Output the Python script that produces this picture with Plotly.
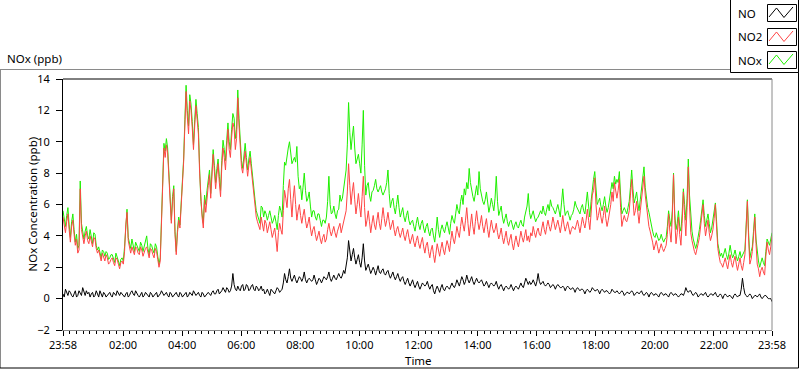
import plotly.graph_objects as go
import pandas as pd

# ---------------- data ----------------
# main samples every 5 minutes, plus one in-between sample ("_mid") for each gap
START = "2013-06-10 23:58"
END = "2013-06-11 23:58"

no2 = [
    5.2, 4.2, 5.4, 3.6, 5.0, 3.4, 2.9, 7.0, 3.8, 4.0,
    3.7, 4.0, 3.3, 3.8, 2.9, 2.6, 2.9, 2.4, 2.6, 2.3,
    2.6, 2.1, 2.5, 1.9, 2.4, 3.0, 5.5, 3.2, 3.3, 2.8,
    3.2, 2.8, 3.1, 3.0, 3.3, 2.6, 3.1, 2.6, 3.0, 2.0,
    5.2, 9.6, 9.8, 7.5, 4.8, 7.0, 2.8, 5.0, 5.9, 8.7,
    13.2, 10.5, 12.0, 9.5, 12.3, 10.5, 6.0, 4.5, 5.5, 7.2,
    6.4, 9.2, 7.0, 8.6, 6.5, 9.6, 8.2, 10.8, 9.0, 11.2,
    9.5, 12.8, 9.3, 8.0, 9.4, 7.8, 9.0, 7.4, 6.0, 4.9,
    4.4, 4.6, 5.0, 4.2, 4.9, 3.9, 4.5, 3.0, 4.8, 4.1,
    6.9, 5.8, 7.6, 5.2, 7.2, 5.0, 6.0, 4.8, 5.7, 4.5,
    5.2, 4.0, 4.6, 3.7, 4.3, 3.5, 4.1, 3.8, 4.8, 4.0,
    4.6, 3.9, 4.5, 4.2, 5.0, 5.6, 8.6, 6.0, 7.4, 5.4,
    6.7, 5.2, 7.8, 4.6, 5.6, 4.2, 5.3, 4.4, 5.5, 4.4,
    5.8, 4.6, 5.5, 4.4, 5.0, 4.0, 4.6, 3.9, 4.5, 3.7,
    4.4, 3.5, 4.1, 3.3, 4.0, 3.2, 3.9, 2.9, 3.6, 2.6,
    3.4, 2.3, 3.5, 2.7, 3.6, 2.8, 3.7, 3.0, 4.3, 3.5,
    4.6, 3.9, 5.2, 4.3, 5.8, 4.0, 5.4, 4.1, 5.6, 4.4,
    5.3, 4.2, 5.1, 3.9, 5.0, 4.2, 4.8, 3.8, 4.5, 3.5,
    4.3, 3.4, 4.1, 3.1, 4.0, 3.3, 4.3, 3.6, 4.4, 4.0,
    4.2, 4.6, 3.9, 4.5, 4.0, 4.9, 4.1, 5.0, 4.3, 5.2,
    4.4, 5.0, 4.2, 5.3, 4.3, 4.9, 4.1, 4.6, 4.4, 5.0,
    4.2, 5.2, 4.5, 5.7, 4.4, 6.6, 7.7, 5.0, 5.8, 4.8,
    5.9, 4.6, 5.4, 6.8, 7.4, 6.4, 7.6, 4.6, 5.3, 4.9,
    5.6, 7.6, 5.3, 6.2, 4.8, 6.4, 7.8, 5.8, 4.6, 4.0,
    3.1, 3.7, 2.9, 3.5, 3.0, 3.4, 5.4, 3.6, 7.9, 3.5,
    5.2, 3.4, 6.8, 4.0, 8.4, 4.2, 3.2, 2.8, 3.5, 4.6,
    6.0, 4.0, 5.0, 3.7, 4.4, 6.0, 3.2, 2.3, 2.0, 2.6,
    1.9, 2.8, 2.0, 2.7, 1.8, 2.6, 1.8, 2.8, 6.2, 2.2,
    3.0, 5.2, 2.2, 1.4, 2.0, 1.5, 3.6, 2.8, 4.0,
]
no2_mid = [
    4.5, 4.9, 4.4, 4.6, 4.1, 3.8, 3.1, 4.4, 3.5, 4.3,
    3.5, 3.6, 3.9, 3.2, 3.1, 2.4, 2.7, 2.8, 2.2, 2.5,
    2.3, 2.6, 2.2, 2.3, 2.2, 4.7, 3.7, 2.9, 3.1, 3.3,
    2.9, 3.3, 2.7, 3.2, 2.9, 3.2, 2.8, 3.2, 2.5, 2.4,
    8.0, 9.0, 9.3, 5.6, 6.2, 4.1, 4.2, 4.5, 7.6, 11.0,
    11.6, 12.6, 10.9, 11.0, 11.4, 8.0, 5.2, 6.3, 6.6, 7.9,
    7.8, 8.1, 7.9, 7.4, 8.4, 9.0, 9.6, 9.5, 10.3, 10.9,
    10.2, 11.0, 8.4, 8.9, 8.6, 8.5, 8.2, 6.6, 5.2, 4.7,
    5.2, 4.3, 4.8, 4.5, 4.4, 4.2, 3.8, 4.2, 4.4, 5.6,
    6.4, 7.0, 6.3, 6.4, 6.0, 5.6, 5.3, 5.3, 5.0, 4.8,
    4.5, 4.4, 4.1, 4.0, 3.8, 3.9, 3.6, 4.4, 4.3, 4.3,
    4.2, 4.3, 4.8, 4.6, 5.3, 6.8, 7.2, 6.8, 6.3, 6.0,
    5.9, 6.5, 5.8, 5.0, 4.9, 4.8, 4.7, 5.0, 4.8, 5.1,
    5.1, 5.0, 4.9, 4.7, 4.4, 4.4, 4.2, 4.2, 4.0, 4.1,
    3.9, 3.8, 3.6, 3.7, 3.5, 3.6, 3.3, 3.4, 3.0, 3.1,
    2.8, 2.9, 3.1, 3.2, 3.1, 3.3, 3.4, 3.7, 3.8, 4.0,
    4.2, 4.6, 4.7, 5.0, 4.8, 4.7, 4.6, 4.9, 4.9, 4.8,
    4.6, 4.7, 4.4, 4.5, 4.5, 4.4, 4.2, 4.1, 3.9, 3.9,
    3.7, 3.8, 3.5, 3.6, 3.6, 3.8, 3.9, 4.0, 3.7, 3.6,
    4.0, 4.2, 4.3, 4.1, 4.5, 4.4, 4.6, 4.6, 4.7, 4.8,
    4.7, 4.6, 4.7, 4.7, 4.6, 4.5, 4.4, 4.5, 4.7, 4.6,
    4.7, 4.8, 5.0, 5.0, 5.4, 6.9, 6.0, 5.3, 5.2, 5.3,
    5.1, 5.0, 6.0, 6.2, 6.7, 6.9, 5.8, 5.0, 5.0, 5.2,
    6.6, 6.4, 5.6, 5.5, 5.6, 7.0, 6.6, 5.0, 4.3, 3.6,
    3.4, 3.3, 3.2, 3.2, 3.2, 4.1, 4.3, 5.2, 5.0, 4.2,
    4.1, 4.8, 5.3, 5.8, 5.9, 3.7, 3.0, 3.1, 3.9, 5.4,
    4.8, 4.5, 4.2, 4.0, 5.1, 4.5, 2.7, 2.2, 2.3, 2.2,
    2.4, 2.3, 2.4, 2.2, 2.2, 2.1, 2.3, 4.5, 3.8, 2.5,
    4.0, 3.5, 1.9, 1.8, 1.7, 2.7, 3.1, 3.3,
]

nox = [
    5.6, 4.6, 5.8, 3.9, 5.4, 3.6, 3.2, 7.5, 4.1, 4.3,
    4.0, 4.4, 3.5, 4.1, 3.1, 2.8, 3.1, 2.7, 2.9, 2.6,
    2.8, 2.3, 2.7, 2.1, 2.6, 3.3, 5.7, 3.4, 3.8, 3.0,
    3.4, 3.0, 3.4, 3.3, 4.0, 2.8, 3.4, 2.9, 3.3, 2.2,
    5.4, 9.9, 10.2, 7.7, 5.0, 7.2, 3.0, 5.2, 6.0, 8.9,
    13.6, 11.0, 12.4, 9.8, 12.7, 10.9, 6.2, 4.8, 6.0, 7.5,
    6.7, 9.5, 7.4, 8.9, 6.9, 10.1, 8.8, 11.2, 9.5, 11.8,
    10.2, 13.3, 9.8, 8.3, 9.9, 8.2, 9.4, 7.7, 6.3, 5.3,
    4.8, 5.8, 5.6, 5.0, 5.6, 4.8, 5.3, 4.4, 5.9, 5.2,
    8.7, 9.2, 10.0, 8.6, 9.0, 9.7, 7.0, 6.3, 8.0, 6.2,
    6.8, 5.2, 5.6, 5.0, 5.4, 4.6, 5.0, 5.2, 7.8, 5.4,
    5.9, 5.1, 5.7, 6.2, 7.0, 8.2, 12.5, 9.5, 11.0, 8.6,
    9.2, 8.0, 12.0, 6.6, 7.4, 6.2, 6.9, 7.6, 6.8, 7.2,
    6.6, 7.0, 8.2, 5.8, 6.4, 5.4, 6.6, 5.2, 5.8, 4.9,
    5.6, 4.7, 5.0, 4.3, 5.2, 4.4, 5.0, 4.2, 4.8, 4.0,
    4.5, 3.6, 5.2, 3.9, 4.7, 4.2, 4.9, 4.1, 5.3, 4.8,
    6.0, 5.4, 6.6, 7.0, 7.4, 8.3, 6.8, 6.2, 7.2, 8.1,
    6.5, 6.0, 6.8, 5.5, 6.4, 5.6, 7.8, 5.3, 5.9, 4.8,
    5.4, 4.6, 5.0, 4.4, 4.9, 4.5, 5.0, 4.6, 5.6, 6.7,
    5.1, 5.6, 4.9, 5.2, 5.6, 5.9, 5.3, 6.0, 6.3, 5.8,
    5.4, 6.0, 5.2, 7.0, 5.3, 5.6, 5.0, 5.4, 6.2, 5.7,
    5.4, 6.0, 5.4, 6.8, 5.2, 7.2, 8.1, 6.0, 6.4, 5.6,
    6.5, 5.5, 6.3, 7.4, 7.8, 7.6, 8.1, 5.4, 5.8, 5.4,
    6.2, 8.2, 6.1, 6.8, 5.6, 7.1, 8.4, 6.3, 5.5, 4.6,
    4.0, 4.2, 3.7, 4.1, 3.6, 3.9, 5.6, 4.6, 8.0, 4.4,
    5.6, 4.3, 7.0, 5.0, 8.9, 5.2, 3.8, 3.2, 3.9, 5.0,
    6.3, 4.6, 5.4, 4.2, 5.0, 6.1, 3.5, 2.7, 2.6, 3.2,
    2.5, 3.4, 2.6, 3.1, 2.4, 3.0, 2.8, 3.1, 6.3, 2.6,
    3.3, 5.4, 2.8, 2.0, 2.6, 2.1, 3.8, 3.4, 4.2,
]
nox_mid = [
    4.9, 5.3, 4.7, 4.9, 4.4, 4.1, 3.4, 4.8, 3.8, 4.6,
    3.8, 3.9, 4.2, 3.4, 3.3, 2.6, 3.0, 3.0, 2.5, 2.8,
    2.5, 2.9, 2.4, 2.5, 2.4, 5.0, 3.9, 3.2, 3.4, 3.6,
    3.1, 3.6, 3.0, 3.6, 3.2, 3.5, 3.1, 3.5, 2.7, 2.6,
    8.3, 9.4, 9.6, 5.8, 6.5, 4.3, 4.4, 4.7, 7.8, 11.4,
    12.0, 13.0, 11.3, 11.4, 11.8, 8.3, 5.4, 6.6, 6.9, 8.2,
    8.1, 8.5, 8.3, 7.8, 8.8, 9.5, 10.1, 10.0, 10.8, 11.5,
    10.8, 11.5, 8.8, 9.3, 9.0, 8.9, 8.6, 6.9, 5.6, 5.1,
    5.9, 5.2, 5.4, 5.3, 5.2, 5.0, 4.9, 5.3, 5.6, 7.2,
    8.5, 9.6, 9.0, 8.8, 8.7, 7.8, 7.2, 7.1, 6.9, 6.4,
    5.9, 5.6, 5.2, 5.4, 5.0, 5.0, 4.8, 6.2, 6.0, 5.5,
    5.4, 5.6, 6.6, 6.4, 7.9, 9.8, 10.6, 10.3, 9.6, 8.9,
    8.6, 9.8, 8.5, 7.2, 6.6, 6.8, 7.2, 7.0, 7.0, 6.8,
    6.8, 7.4, 6.7, 6.2, 5.8, 6.0, 5.8, 5.5, 5.2, 5.3,
    5.0, 4.9, 4.6, 4.8, 4.7, 4.8, 4.5, 4.6, 4.3, 4.4,
    4.0, 4.3, 4.4, 4.4, 4.4, 4.6, 4.5, 4.8, 5.0, 5.4,
    5.6, 6.2, 6.0, 6.6, 7.0, 7.4, 6.5, 6.8, 6.6, 7.0,
    6.2, 6.3, 6.0, 5.9, 6.0, 6.4, 6.2, 5.6, 5.2, 5.1,
    4.9, 4.9, 4.7, 4.7, 4.6, 4.8, 4.7, 5.2, 5.9, 5.5,
    5.3, 5.2, 5.1, 5.4, 5.4, 5.5, 5.7, 5.6, 5.9, 5.6,
    5.7, 5.6, 6.1, 6.0, 5.5, 5.3, 5.3, 5.7, 5.9, 5.5,
    5.8, 5.6, 6.1, 5.9, 6.2, 7.6, 6.8, 6.2, 5.9, 6.0,
    5.9, 5.8, 6.8, 7.0, 7.3, 7.4, 6.6, 5.6, 5.6, 5.8,
    7.1, 7.0, 6.4, 6.1, 6.3, 7.6, 7.1, 5.8, 5.0, 4.3,
    3.9, 3.9, 3.8, 3.8, 3.8, 4.6, 5.0, 5.6, 5.4, 4.8,
    4.6, 5.4, 6.0, 6.4, 6.6, 4.3, 3.5, 3.5, 4.4, 5.8,
    5.3, 5.0, 4.8, 4.5, 5.6, 4.9, 3.1, 2.9, 2.9, 2.8,
    2.9, 2.9, 2.8, 2.7, 2.7, 2.6, 2.9, 4.7, 4.2, 3.0,
    4.3, 3.8, 2.4, 2.4, 2.3, 3.0, 3.6, 3.8,
]

no = [
    0.3, 0.6, 0.2, 0.4, 0.1, 0.5, 0.2, 0.3, 0.7, 0.2,
    0.3, 0.1, 0.4, 0.2, 0.3, 0.5, 0.1, 0.3, 0.2, 0.4,
    0.1, 0.3, 0.5, 0.2, 0.3, 0.1, 0.4, 0.2, 0.5, 0.2,
    0.3, 0.1, 0.4, 0.2, 0.3, 0.1, 0.3, 0.2, 0.4, 0.2,
    0.5, 0.2, 0.4, 0.1, 0.3, 0.2, 0.4, 0.1, 0.3, 0.2,
    0.4, 0.2, 0.3, 0.5, 0.2, 0.4, 0.1, 0.3, 0.2, 0.4,
    0.2, 0.5, 0.3, 0.6, 0.4, 0.7, 0.4, 0.6, 0.5, 1.6,
    0.6, 0.8, 0.5, 0.9, 0.6, 0.8, 0.6, 0.9, 0.5, 0.7,
    0.6, 0.5, 0.3, 0.6, 0.2, 0.5, 0.3, 0.7, 0.4, 0.6,
    1.6, 1.0, 1.9, 1.1, 1.5, 1.0, 1.4, 1.1, 1.7, 1.0,
    1.3, 1.1, 1.5, 0.9, 1.3, 1.0, 1.4, 1.2, 1.7, 1.1,
    1.5, 1.2, 1.6, 1.3, 1.8, 2.0, 3.7, 2.4, 3.2, 2.2,
    2.8, 2.0, 3.5, 1.8, 2.2, 1.6, 2.0, 1.5, 2.1, 1.6,
    1.9, 1.5, 1.8, 1.3, 1.7, 1.2, 1.6, 1.1, 1.4, 0.9,
    1.3, 0.8, 1.2, 0.7, 1.1, 0.6, 1.0, 0.8, 1.1, 0.6,
    0.9, 0.3, 0.8, 0.4, 0.9, 0.5, 0.8, 0.6, 1.0, 0.7,
    1.2, 0.8, 1.4, 0.9, 1.5, 1.0, 1.4, 0.9, 1.3, 1.0,
    1.2, 0.8, 1.1, 0.7, 1.0, 0.8, 1.1, 0.6, 0.9, 0.5,
    0.8, 0.6, 0.9, 0.5, 0.8, 0.6, 1.0, 0.7, 1.3, 0.9,
    0.9, 1.2, 0.8, 1.6, 0.9, 1.1, 0.8, 1.0, 0.7, 0.9,
    0.6, 0.9, 0.7, 0.8, 0.5, 0.8, 0.6, 0.7, 0.4, 0.7,
    0.5, 0.6, 0.3, 0.6, 0.4, 0.7, 0.5, 0.6, 0.3, 0.6,
    0.4, 0.5, 0.3, 0.6, 0.4, 0.5, 0.3, 0.5, 0.2, 0.4,
    0.3, 0.5, 0.2, 0.4, 0.3, 0.5, 0.2, 0.4, 0.1, 0.4,
    0.2, 0.3, 0.1, 0.4, 0.2, 0.3, 0.1, 0.4, 0.2, 0.3,
    0.1, 0.3, 0.2, 0.7, 0.4, 0.5, 0.2, 0.4, 0.1, 0.3,
    0.2, 0.4, 0.1, 0.3, 0.2, 0.4, 0.1, 0.3, 0.0, 0.3,
    0.1, 0.2, 0.0, 0.3, 0.1, 0.2, 1.3, 0.3, 0.1, 0.3,
    0.0, 0.2, 0.1, 0.3, 0.0, 0.2, 0.1, 0.0, -0.2,
]
no_mid = [
    0.1, 0.4, 0.5, 0.2, 0.3, 0.1, 0.5, 0.2, 0.4, 0.5,
    0.4, 0.3, 0.1, 0.5, 0.1, 0.3, 0.4, 0.1, 0.3, 0.2,
    0.4, 0.2, 0.3, 0.4, 0.2, 0.3, 0.1, 0.4, 0.3, 0.5,
    0.2, 0.3, 0.1, 0.4, 0.2, 0.4, 0.1, 0.3, 0.1, 0.3,
    0.3, 0.3, 0.2, 0.4, 0.1, 0.3, 0.2, 0.4, 0.1, 0.3,
    0.1, 0.4, 0.2, 0.3, 0.3, 0.2, 0.4, 0.1, 0.3, 0.3,
    0.4, 0.3, 0.5, 0.3, 0.5, 0.5, 0.7, 0.4, 0.8, 0.9,
    0.5, 0.6, 0.8, 0.5, 0.9, 0.5, 0.8, 0.6, 0.8, 0.5,
    0.8, 0.6, 0.4, 0.4, 0.6, 0.4, 0.5, 0.6, 0.5, 1.0,
    1.2, 1.4, 1.3, 1.3, 1.2, 1.2, 1.3, 1.3, 1.2, 1.2,
    1.2, 1.2, 1.2, 1.1, 1.2, 1.2, 1.3, 1.4, 1.3, 1.3,
    1.3, 1.4, 1.4, 1.5, 1.6, 2.6, 2.9, 2.8, 2.6, 2.5,
    2.3, 2.6, 2.4, 2.0, 1.9, 1.8, 1.8, 1.8, 1.7, 1.8,
    1.6, 1.7, 1.5, 1.5, 1.4, 1.4, 1.3, 1.3, 1.1, 1.1,
    1.0, 1.0, 0.9, 0.9, 0.8, 0.8, 0.9, 0.9, 0.8, 0.8,
    0.5, 0.6, 0.6, 0.7, 0.6, 0.7, 0.7, 0.8, 0.8, 0.9,
    1.0, 1.1, 1.2, 1.1, 1.2, 1.2, 1.1, 1.1, 1.1, 1.1,
    1.0, 0.9, 0.9, 0.9, 0.9, 0.9, 0.8, 0.8, 0.7, 0.7,
    0.7, 0.7, 0.7, 0.7, 0.7, 0.8, 0.8, 1.0, 1.1, 1.1,
    1.0, 1.0, 1.1, 1.1, 1.0, 0.9, 0.9, 0.9, 0.8, 0.8,
    0.8, 0.8, 0.7, 0.7, 0.7, 0.7, 0.6, 0.6, 0.6, 0.6,
    0.6, 0.5, 0.5, 0.5, 0.5, 0.6, 0.5, 0.5, 0.5, 0.5,
    0.5, 0.4, 0.4, 0.5, 0.4, 0.4, 0.4, 0.4, 0.3, 0.4,
    0.4, 0.4, 0.3, 0.4, 0.4, 0.3, 0.3, 0.3, 0.3, 0.3,
    0.3, 0.2, 0.3, 0.3, 0.3, 0.2, 0.3, 0.3, 0.3, 0.2,
    0.2, 0.3, 0.4, 0.5, 0.5, 0.3, 0.3, 0.3, 0.2, 0.3,
    0.3, 0.2, 0.2, 0.3, 0.3, 0.2, 0.2, 0.2, 0.2, 0.2,
    0.2, 0.1, 0.2, 0.2, 0.2, 0.6, 0.7, 0.2, 0.2, 0.2,
    0.1, 0.2, 0.2, 0.1, 0.1, 0.2, 0.0, 0.0,
]

series_names = ["NO", "NO2", "NOx"]
series_colors = {"NO": "#000000", "NO2": "#ff4545", "NOx": "#1ef000"}

major_tick_times = [START] + ["2013-06-11 %02d:00" % h for h in range(2, 24, 2)] + [END]
major_tick_text = ["23:58"] + ["%02d:00" % h for h in range(2, 24, 2)] + ["23:58"]


def interleave(main, mid):
    assert len(mid) == len(main) - 1, (len(main), len(mid))
    out = []
    for a, b in zip(main[:-1], mid):
        out += [a, b]
    out.append(main[-1])
    return out


series = {
    "NOx": interleave(nox, nox_mid),
    "NO2": interleave(no2, no2_mid),
    "NO": interleave(no, no_mid),
}
times = pd.date_range(START, END, freq="150s")
assert len(times) == len(series["NO"])

# minor ticks: 8 between each pair of labelled ticks
mt = pd.to_datetime(major_tick_times)
minor_ticks = []
for a, b in zip(mt[:-1], mt[1:]):
    for k in range(1, 9):
        minor_ticks.append(a + (b - a) * k / 9)

# ---------------- geometry helpers (pixel -> paper) ----------------
W, H = 800, 369
L, R, T, B = 63, 28, 79, 39
PW, PH = W - L - R, H - T - B


def xp(px):
    return (px - L) / PW


def yp(py):
    return (H - B - py) / PH


FONT = "Noto Sans"

fig = go.Figure()
# draw order: NOx, NO2, NO (red on top of green)
for name in ("NOx", "NO2", "NO"):
    fig.add_trace(go.Scatter(
        x=times, y=series[name], mode="lines", name=name,
        line=dict(color=series_colors[name], width=1),
        hoverinfo="x+y+name",
    ))

shapes = []
# plot-area frame: top black, right gray
shapes.append(dict(type="line", xref="paper", yref="paper", x0=0, x1=1, y0=1, y1=1,
                   line=dict(color="#000000", width=1)))
shapes.append(dict(type="line", xref="paper", yref="paper", x0=1, x1=1, y0=0, y1=1,
                   line=dict(color="#8a8a8a", width=1)))
# outer frame
shapes.append(dict(type="line", xref="paper", yref="paper", x0=xp(0), x1=xp(730),
                   y0=yp(69.5), y1=yp(69.5), line=dict(color="#8a8a8a", width=1)))
shapes.append(dict(type="line", xref="paper", yref="paper", x0=xp(0.5), x1=xp(0.5),
                   y0=yp(69.5), y1=yp(368), line=dict(color="#8a8a8a", width=1)))
shapes.append(dict(type="line", xref="paper", yref="paper", x0=xp(0), x1=xp(798.5),
                   y0=yp(368), y1=yp(368), line=dict(color="#000000", width=1)))
shapes.append(dict(type="line", xref="paper", yref="paper", x0=xp(798.5), x1=xp(798.5),
                   y0=yp(0), y1=yp(368), line=dict(color="#000000", width=1)))
# legend box
shapes.append(dict(type="rect", xref="paper", yref="paper", x0=xp(730.5), x1=xp(798.5),
                   y0=yp(-2), y1=yp(72.5), fillcolor="white",
                   line=dict(color="#000000", width=1)))

annotations = []
box_tops = [4.5, 28.5, 51.5]
text_centers = [13, 37, 60]
zig = [(769, 17), (776.5, 8), (784, 17.5), (793, 7)]
for name, top, tc in zip(series_names, box_tops, text_centers):
    shapes.append(dict(type="rect", xref="paper", yref="paper", x0=xp(767.5), x1=xp(796.5),
                       y0=yp(top), y1=yp(top + 17), fillcolor="white",
                       line=dict(color="#000000", width=1)))
    off = top - 4.5
    path = "M " + " L ".join("%f,%f" % (xp(px), yp(py + off)) for px, py in zig)
    shapes.append(dict(type="path", xref="paper", yref="paper", path=path,
                       line=dict(color=series_colors[name], width=1)))
    annotations.append(dict(text=name, xref="paper", yref="paper", x=xp(735.5), y=yp(tc),
                            xanchor="left", yanchor="middle", showarrow=False,
                            font=dict(family=FONT, size=11.5, color="#000000")))

annotations.append(dict(text="NOx (ppb)", xref="paper", yref="paper", x=xp(4.5), y=yp(58.5),
                        xanchor="left", yanchor="middle", showarrow=False,
                        font=dict(family=FONT, size=11.5, color="#000000")))
annotations.append(dict(text="NOx Concentration (ppb)", xref="paper", yref="paper",
                        x=xp(31.5), y=yp(204), xanchor="center", yanchor="middle",
                        textangle=-90, showarrow=False,
                        font=dict(family=FONT, size=11.5, color="#000000")))
annotations.append(dict(text="Time", xref="paper", yref="paper", x=xp(418), y=yp(360),
                        xanchor="center", yanchor="middle", showarrow=False,
                        font=dict(family=FONT, size=11.5, color="#000000")))

fig.update_layout(
    width=W, height=H,
    margin=dict(l=L, r=R, t=T, b=B, pad=0),
    paper_bgcolor="white", plot_bgcolor="white",
    showlegend=False,
    font=dict(family=FONT, size=11, color="#000000"),
    shapes=shapes, annotations=annotations,
    xaxis=dict(
        type="date", range=[START, END],
        tickmode="array", tickvals=major_tick_times, ticktext=major_tick_text,
        ticks="outside", ticklen=5, tickwidth=1, tickcolor="#000000",
        showline=True, linecolor="#8a8a8a", linewidth=1,
        showgrid=False, zeroline=False,
        minor=dict(tickmode="array", tickvals=minor_ticks, ticks="outside",
                   ticklen=3, tickwidth=1, tickcolor="#000000", showgrid=False),
        tickfont=dict(family=FONT, size=11, color="#000000"),
    ),
    yaxis=dict(
        range=[-2, 14], tickmode="linear", tick0=0, dtick=2,
        ticks="outside", ticklen=6, tickwidth=1, tickcolor="#000000",
        showline=True, linecolor="#000000", linewidth=1,
        showgrid=False, zeroline=False,
        tickfont=dict(family=FONT, size=11, color="#000000"),
        ticklabelstandoff=4,
    ),
)

fig.write_html(
    "out.html",
    config={"displayModeBar": False},
    post_script="document.body.style.margin='0px';document.body.style.overflow='hidden';",
)
